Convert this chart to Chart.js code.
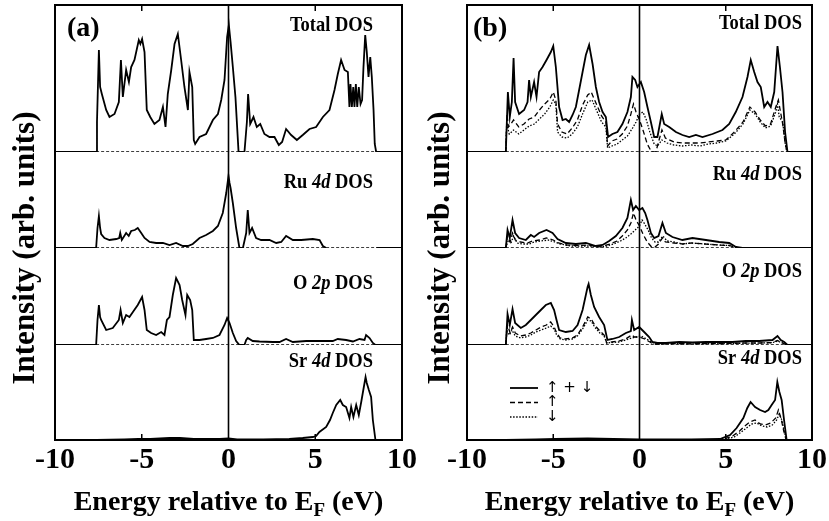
<!DOCTYPE html>
<html>
<head>
<meta charset="utf-8">
<title>DOS</title>
<script src="https://cdn.jsdelivr.net/npm/chart.js@4.4.0/dist/chart.umd.min.js"></script>
<style>
    html, body { margin: 0; padding: 0; background: #fff; }
    #wrap { position: relative; width: 829px; height: 521px; overflow: hidden; }
    canvas { position: absolute; top: 0; }
    #chartA { left: 0; }
    #chartB { left: 399px; }
</style>
</head>
<body>
<div id="wrap">
    <canvas id="chartA" width="430" height="521"></canvas>
    <canvas id="chartB" width="430" height="521"></canvas>
</div>
<script>
// energy relative to E_F (eV), intensity in arb. units
const energyRange = [-10, 10];
const energyTicks = [-10, -5, 0, 5, 10];
const panelNames = ['Total', 'Ru 4d', 'O 2p', 'Sr 4d'];

// band edges where the dashed zero line is drawn
const bandA = [[-7.63, 0], [8.51, 0]];
const bandB = [[-7.75, 0], [8.58, 0]];

// (a) non spin-polarised
const totalA = [[-10,0],[-7.63,0],[-7.58,30],[-7.47,102],[-7.4,65],[-7.3,58],[-7.05,42],[-6.86,35],[-6.57,38],[-6.32,50],[-6.2,92],[-6.09,55],[-5.9,82],[-5.74,70],[-5.61,85],[-5.42,92],[-5.17,112],[-5.08,108],[-4.98,113],[-4.84,100],[-4.71,42],[-4.51,35],[-4.27,28],[-3.98,32],[-3.78,45],[-3.63,25],[-3.5,58],[-3.3,82],[-3.11,108],[-2.92,118],[-2.73,92],[-2.54,65],[-2.34,42],[-2.25,80],[-2.09,65],[-2.0,12],[-1.92,8],[-1.67,15],[-1.29,18],[-0.9,32],[-0.61,38],[-0.42,52],[-0.23,72],[-0.08,115],[0.02,127],[0.12,110],[0.25,85],[0.4,55],[0.58,0],[0.92,0],[1.06,30],[1.13,58],[1.25,28],[1.44,35],[1.63,25],[1.83,28],[2.07,18],[2.36,15],[2.65,15],[2.9,7],[3.09,10],[3.32,23],[3.61,17],[3.94,12],[4.28,17],[4.67,23],[5.05,25],[5.44,35],[5.82,42],[6.11,62],[6.3,78],[6.49,92],[6.69,82],[6.88,80],[6.97,45],[7.03,68],[7.11,45],[7.19,65],[7.26,45],[7.34,68],[7.42,45],[7.51,65],[7.61,48],[7.7,52],[7.78,85],[7.88,117],[7.97,100],[8.07,75],[8.17,95],[8.26,75],[8.36,42],[8.43,8],[8.51,0],[10,0]];
const ruA = [[-10,0],[-7.63,0],[-7.55,20],[-7.47,32],[-7.4,20],[-7.34,14],[-7.15,10],[-6.86,8],[-6.47,9],[-6.3,10],[-6.24,15],[-6.15,8],[-5.9,15],[-5.75,12],[-5.61,17],[-5.4,18],[-5.23,20],[-5.03,15],[-4.84,10],[-4.55,6],[-4.17,5],[-3.78,5],[-3.4,3],[-3.02,5],[-2.63,2],[-2.34,2],[-2.06,4],[-1.67,10],[-1.29,13],[-0.9,17],[-0.61,22],[-0.33,35],[-0.13,55],[0.0,72],[0.06,65],[0.12,60],[0.25,45],[0.44,20],[0.63,0],[0.83,0],[1.02,15],[1.11,38],[1.21,15],[1.36,20],[1.59,10],[1.88,8],[2.36,8],[2.75,5],[3.04,6],[3.32,12],[3.71,8],[4.19,8],[4.86,9],[5.25,8],[5.44,2],[5.63,0],[7.0,null],[8.51,0],[10,0]];
const oA = [[-10,0],[-7.63,0],[-7.55,25],[-7.47,40],[-7.4,28],[-7.34,25],[-7.05,15],[-6.67,17],[-6.32,25],[-6.22,35],[-6.09,22],[-5.9,30],[-5.71,28],[-5.51,33],[-5.23,40],[-4.98,48],[-4.84,35],[-4.71,15],[-4.46,12],[-4.17,10],[-3.88,13],[-3.69,10],[-3.55,25],[-3.4,28],[-3.21,50],[-3.02,67],[-2.82,60],[-2.67,45],[-2.48,30],[-2.38,50],[-2.21,45],[-2.09,35],[-2.0,5],[-1.67,5],[-1.29,6],[-0.9,7],[-0.52,10],[-0.23,20],[-0.08,27],[0.06,22],[0.25,12],[0.44,4],[0.63,0],[0.92,0],[1.02,5],[1.11,7],[1.4,4],[1.79,3.5],[2.56,3],[2.94,3],[3.32,6],[3.71,3],[4.48,4],[5.25,4],[6.01,4],[6.3,6],[6.78,5],[7.17,3.5],[7.55,6],[7.84,5],[7.93,10],[8.13,7],[8.32,2],[8.47,0],[10,0]];
const srA = [[-10,0],[-7.6,0],[-6,0.5],[-5.2,1],[-4.5,1],[-3.4,2],[-2.8,2],[-2,1],[-0.5,1],[0,1.5],[0.5,0.5],[2,0.5],[3.5,1],[4.28,2],[4.86,3],[5.05,4],[5.24,8],[5.63,13],[5.85,20],[6.01,27],[6.21,35],[6.44,40],[6.59,35],[6.78,33],[6.97,22],[7.07,33],[7.2,23],[7.36,35],[7.51,25],[7.65,38],[7.74,47],[7.9,63],[7.97,57],[8.09,50],[8.22,43],[8.32,20],[8.47,0],[10,0]];

// (b) spin-polarised: up + down (solid), up (dashed), down (dotted)
const totalB = [[-10,0],[-7.75,0],[-7.63,60],[-7.52,35],[-7.4,50],[-7.3,94],[-7.21,50],[-6.98,38],[-6.69,42],[-6.49,50],[-6.4,72],[-6.3,55],[-6.11,70],[-5.97,55],[-5.82,80],[-5.62,85],[-5.39,92],[-5.14,100],[-5.0,106],[-4.85,85],[-4.66,45],[-4.46,32],[-4.27,33],[-4.08,30],[-3.88,37],[-3.69,45],[-3.5,62],[-3.3,80],[-3.11,97],[-2.92,107],[-2.72,88],[-2.53,65],[-2.34,50],[-2.14,40],[-1.95,35],[-1.82,15],[-1.57,18],[-1.28,20],[-0.99,28],[-0.7,40],[-0.5,55],[-0.41,75],[-0.25,72],[-0.12,65],[0.08,70],[0.27,60],[0.46,45],[0.66,30],[0.85,15],[1.04,15],[1.29,38],[1.43,28],[1.72,25],[2.11,20],[2.49,17],[2.88,15],[3.27,17],[3.65,15],[4.23,18],[4.81,22],[5.2,28],[5.58,40],[5.97,55],[6.26,75],[6.45,92],[6.65,80],[6.84,70],[7.03,65],[7.23,45],[7.42,50],[7.61,45],[7.81,60],[8.0,106],[8.14,85],[8.29,60],[8.44,20],[8.58,0],[10,0]];
const totalUpB = [[-7.75,0],[-7.68,38],[-7.6,25],[-7.45,28],[-7.3,32],[-7.0,25],[-6.7,28],[-6.4,33],[-6.1,35],[-5.8,42],[-5.5,48],[-5.2,53],[-5.0,60],[-4.85,52],[-4.75,28],[-4.5,20],[-4.2,18],[-3.9,24],[-3.6,32],[-3.3,47],[-3.0,57],[-2.8,60],[-2.5,48],[-2.2,36],[-1.95,30],[-1.85,6],[-1.6,11],[-1.3,13],[-1.0,18],[-0.7,26],[-0.5,38],[-0.35,48],[-0.2,40],[0,32],[0.2,22],[0.45,8],[0.7,0],[0.95,0],[1.1,10],[1.3,22],[1.5,14],[2.0,10],[2.5,9],[3.0,9],[3.5,9],[4.0,10],[4.5,11],[5.0,12],[5.5,20],[6.0,30],[6.4,45],[6.7,40],[7.0,32],[7.3,26],[7.6,28],[7.9,45],[8.05,52],[8.3,28],[8.45,8],[8.55,0]];
const totalDnB = [[-7.75,0],[-7.7,28],[-7.55,18],[-7.3,22],[-7.0,18],[-6.7,22],[-6.4,26],[-6.1,28],[-5.8,33],[-5.5,38],[-5.2,45],[-5.0,52],[-4.85,48],[-4.75,20],[-4.5,15],[-4.2,14],[-3.9,18],[-3.6,25],[-3.3,38],[-3.0,50],[-2.75,52],[-2.5,42],[-2.2,30],[-1.95,25],[-1.85,4],[-1.6,6],[-1.3,8],[-1.0,12],[-0.7,16],[-0.4,24],[-0.2,30],[0,38],[0.2,40],[0.4,32],[0.6,20],[0.85,8],[1.05,6],[1.3,12],[1.6,9],[2.0,7],[2.5,6],[3.0,7],[3.5,6],[4.0,8],[4.5,9],[5.0,11],[5.5,18],[6.0,28],[6.4,42],[6.7,38],[7.0,30],[7.3,24],[7.6,26],[7.9,40],[8.0,48],[8.1,35],[8.3,30],[8.45,8],[8.55,0]];
const ruB = [[-10,0],[-7.75,0],[-7.65,18],[-7.52,10],[-7.36,28],[-7.21,15],[-6.98,10],[-6.59,8],[-6.3,13],[-6.11,11],[-5.82,15],[-5.39,18],[-5.04,15],[-4.75,9],[-4.27,5],[-3.69,4],[-3.11,5],[-2.53,2],[-2.14,3],[-1.76,7],[-1.37,12],[-0.99,20],[-0.7,30],[-0.5,48],[-0.37,38],[-0.21,42],[-0.02,38],[0.17,40],[0.33,35],[0.46,28],[0.66,15],[0.85,10],[1.1,12],[1.33,25],[1.53,15],[1.91,11],[2.49,8],[3.07,10],[3.85,8],[4.62,6],[5.2,5],[5.59,1],[5.97,0],[10,0]];
const ruUpB = [[-7.75,0],[-7.65,12],[-7.5,6],[-7.36,15],[-7.2,8],[-6.9,6],[-6.5,5],[-6.2,7],[-5.8,8],[-5.4,10],[-5.0,8],[-4.7,5],[-4.2,3],[-3.6,2.5],[-3.0,3],[-2.5,1.5],[-2.1,2],[-1.7,4],[-1.3,7],[-1.0,12],[-0.7,18],[-0.5,25],[-0.35,35],[-0.2,28],[0,22],[0.2,14],[0.45,6],[0.7,1],[0.9,1],[1.1,4],[1.33,10],[1.5,6],[2.0,5],[2.5,4],[3.0,5],[3.8,4],[4.6,3],[5.2,2.5],[5.6,0.5],[6,0]];
const ruDnB = [[-7.75,0],[-7.6,8],[-7.45,5],[-7.3,12],[-7.1,5],[-6.8,4],[-6.4,4],[-6.1,6],[-5.7,7],[-5.3,8],[-4.9,6],[-4.6,4],[-4.0,2],[-3.4,2],[-2.8,2],[-2.3,1],[-1.9,2],[-1.5,4],[-1.1,7],[-0.8,10],[-0.5,14],[-0.25,18],[0,22],[0.15,28],[0.3,24],[0.5,18],[0.7,10],[0.9,6],[1.1,6],[1.35,12],[1.6,7],[2.0,6],[2.5,4],[3.0,5],[3.8,4],[4.6,3],[5.2,2.5],[5.6,0.5],[6,0]];
const oB = [[-10,0],[-7.75,0],[-7.65,31],[-7.52,20],[-7.36,36],[-7.21,22],[-6.88,17],[-6.59,20],[-6.3,25],[-6.01,30],[-5.72,35],[-5.43,40],[-5.14,42],[-4.95,35],[-4.81,25],[-4.66,15],[-4.27,13],[-3.88,14],[-3.59,20],[-3.3,35],[-3.01,58],[-2.95,61],[-2.82,50],[-2.63,38],[-2.34,28],[-2.05,20],[-1.86,5],[-1.57,6],[-1.18,8],[-0.79,12],[-0.5,14],[-0.44,25],[-0.31,15],[-0.02,18],[0.27,13],[0.56,8],[0.75,3],[1.04,2],[1.53,2],[2.3,3],[3.07,2.5],[3.85,3],[4.62,3],[5.39,3],[6.16,4],[6.94,4],[7.71,5],[8.0,9],[8.19,5],[8.39,3],[8.58,0],[10,0]];
const oUpB = [[-7.75,0],[-7.65,20],[-7.5,12],[-7.36,18],[-7.2,12],[-6.9,9],[-6.6,10],[-6.3,12],[-6.0,15],[-5.7,18],[-5.4,20],[-5.15,23],[-4.95,18],[-4.8,12],[-4.6,7],[-4.3,6],[-3.9,7],[-3.6,10],[-3.3,18],[-3.0,28],[-2.8,26],[-2.6,20],[-2.3,14],[-2.05,10],[-1.9,2],[-1.6,3],[-1.2,4],[-0.8,6],[-0.45,10],[-0.3,8],[0,8],[0.3,6],[0.6,3],[0.8,1],[1.1,1],[2,1.5],[3,1.2],[4,1.5],[5,1.5],[6,2],[7,2],[7.7,2.5],[8.0,4.5],[8.3,2],[8.55,0]];
const oDnB = [[-7.75,0],[-7.7,15],[-7.55,10],[-7.4,15],[-7.2,9],[-6.9,7],[-6.6,8],[-6.3,10],[-6.0,13],[-5.7,15],[-5.4,17],[-5.15,19],[-4.95,16],[-4.8,10],[-4.6,6],[-4.3,5],[-3.9,6],[-3.6,9],[-3.3,16],[-3.0,25],[-2.8,24],[-2.6,18],[-2.3,12],[-2.05,9],[-1.9,2],[-1.6,2.5],[-1.2,3],[-0.8,5],[-0.45,7],[-0.2,8],[0.1,9],[0.4,6],[0.7,3],[0.9,1],[1.2,1],[2,1.3],[3,1.2],[4,1.3],[5,1.4],[6,1.8],[7,2],[7.7,2.3],[8.0,4],[8.3,2],[8.55,0]];
const srB = [[-10,0],[-7.75,0],[-6,0.5],[-4.9,1],[-3.0,1.5],[-1.5,1],[0,0.5],[3,0.5],[4.67,1],[5.25,5],[5.63,12],[6.02,22],[6.25,32],[6.44,38],[6.7,33],[6.99,30],[7.28,28],[7.47,30],[7.66,35],[7.86,40],[7.99,58],[8.11,48],[8.24,40],[8.38,20],[8.53,0],[10,0]];
const srUpB = [[4.5,0],[4.9,1],[5.4,4],[5.8,9],[6.1,14],[6.4,18],[6.7,20],[7.0,16],[7.3,15],[7.6,17],[7.9,22],[8.05,30],[8.2,22],[8.35,10],[8.5,0]];
const srDnB = [[4.6,0],[5.0,1],[5.5,3],[5.9,8],[6.2,12],[6.5,16],[6.8,17],[7.1,14],[7.4,13],[7.7,15],[7.95,20],[8.1,26],[8.25,20],[8.4,8],[8.52,0]];

const SERIF = '"Liberation Serif", "Times New Roman", serif';

function pts(arr) {
    return arr.map(p => ({ x: p[0], y: p[1] }));
}

function line(data, axis, style) {
    const ds = {
        data: pts(data),
        yAxisID: axis,
        borderColor: '#000',
        borderWidth: 1.8,
        pointRadius: 0,
        tension: 0,
        fill: false,
        spanGaps: false
    };
    if (style === 'dash') { ds.borderDash = [5, 3]; ds.borderWidth = 1.3; }
    if (style === 'dot') { ds.borderDash = [1.5, 1.6]; ds.borderWidth = 1.3; }
    if (style === 'base') { ds.borderDash = [3, 2]; ds.borderWidth = 1.3; }
    return ds;
}

function yAxis(max, weight) {
    return {
        type: 'linear',
        axis: 'y',
        position: 'left',
        stack: 'dos',
        stackWeight: weight,
        min: 0,
        max: max,
        ticks: { display: false },
        grid: { display: false, drawTicks: false },
        border: { display: false }
    };
}

// right-aligned label, slightly condensed like the printed figure
function drawParts(ctx, parts, size, xRight, y, squeeze) {
    let w = 0;
    parts.forEach(p => {
        ctx.font = (p.i ? 'italic bold ' : 'bold ') + size + 'px ' + SERIF;
        w += ctx.measureText(p.t).width;
    });
    ctx.save();
    ctx.translate(xRight - w * squeeze, y);
    ctx.scale(squeeze, 1);
    let x = 0;
    parts.forEach(p => {
        ctx.font = (p.i ? 'italic bold ' : 'bold ') + size + 'px ' + SERIF;
        ctx.fillText(p.t, x, 0);
        x += ctx.measureText(p.t).width;
    });
    ctx.restore();
}

function labelParts(name) {
    const bits = name.split(' ');
    if (bits.length === 1) return [{ t: name + ' DOS', i: false }];
    return [{ t: bits[0] + ' ', i: false }, { t: bits[1], i: true }, { t: ' DOS', i: false }];
}

const decorations = {
    id: 'decorations',
    afterDraw(chart, args, opts) {
        const ctx = chart.ctx;
        const a = chart.chartArea;
        const xs = chart.scales.x;
        ctx.save();
        ctx.strokeStyle = '#000';
        ctx.fillStyle = '#000';

        // frame
        ctx.lineWidth = 2;
        ctx.strokeRect(a.left, a.top, a.right - a.left, a.bottom - a.top);

        // Fermi level
        const x0 = xs.getPixelForValue(0);
        ctx.lineWidth = 1.6;
        ctx.beginPath();
        ctx.moveTo(x0, a.top);
        ctx.lineTo(x0, a.bottom);
        ctx.stroke();

        // inward ticks
        ctx.lineWidth = 1.5;
        [-5, 5].forEach(v => {
            const px = xs.getPixelForValue(v);
            ctx.beginPath();
            ctx.moveTo(px, a.top); ctx.lineTo(px, a.top + 6);
            ctx.moveTo(px, a.bottom); ctx.lineTo(px, a.bottom - 6);
            ctx.stroke();
        });

        // panel letter
        ctx.textBaseline = 'middle';
        ctx.textAlign = 'left';
        ctx.font = 'bold 28px ' + SERIF;
        ctx.fillText(opts.letter, a.left + opts.letterDx, opts.letterY);

        // sub-panel labels
        const ids = ['yTot', 'yRu', 'yO', 'ySr'];
        ids.forEach((id, k) => {
            const s = chart.scales[id];
            drawParts(ctx, labelParts(panelNames[k]), 21, a.right - opts.labelInset, s.top + opts.labelDy[k], 0.88);
        });

        // y title
        ctx.save();
        ctx.translate(opts.yTitleX, opts.yTitleY);
        ctx.rotate(-Math.PI / 2);
        ctx.textAlign = 'center';
        ctx.textBaseline = 'middle';
        ctx.font = 'bold 31px ' + SERIF;
        ctx.fillText('Intensity (arb. units)', 0, 0);
        ctx.restore();

        // x title with subscript
        ctx.textBaseline = 'alphabetic';
        const main = 'bold 28px ' + SERIF;
        const sub = 'bold 19px ' + SERIF;
        const t1 = 'Energy relative to E', t2 = 'F', t3 = ' (eV)';
        ctx.font = main;
        const w1 = ctx.measureText(t1).width, w3 = ctx.measureText(t3).width;
        ctx.font = sub;
        const w2 = ctx.measureText(t2).width;
        let tx = (a.left + a.right) / 2 - (w1 + w2 + w3) / 2;
        const ty = opts.xTitleY;
        ctx.font = main; ctx.fillText(t1, tx, ty); tx += w1;
        ctx.font = sub; ctx.fillText(t2, tx, ty + 6); tx += w2;
        ctx.font = main; ctx.fillText(t3, tx, ty);

        // spin legend
        if (opts.legend) {
            const L = opts.legend;
            const rows = [[], [5, 3], [1.5, 1.6]];
            const marks = ['\u2191 + \u2193', '\u2191', '\u2193'];
            rows.forEach((dash, k) => {
                const y = L.y + k * L.dy;
                ctx.setLineDash(dash);
                ctx.lineWidth = k === 0 ? 1.8 : 1.3;
                ctx.beginPath();
                ctx.moveTo(L.x, y);
                ctx.lineTo(L.x + L.len, y);
                ctx.stroke();
                ctx.setLineDash([]);
                ctx.font = '15px "DejaVu Sans"';
                ctx.textBaseline = 'middle';
                ctx.fillText(marks[k], L.x + L.len + 8, y);
            });
        }
        ctx.restore();
    }
};

function makePanel(canvasId, datasets, pad, opts) {
    return new Chart(document.getElementById(canvasId), {
        type: 'line',
        data: { datasets: datasets },
        options: {
            responsive: false,
            animation: false,
            layout: { padding: pad },
            plugins: {
                legend: { display: false },
                tooltip: { enabled: false },
                decorations: opts
            },
            scales: {
                x: {
                    type: 'linear',
                    min: energyRange[0],
                    max: energyRange[1],
                    afterBuildTicks: s => { s.ticks = energyTicks.map(v => ({ value: v })); },
                    ticks: {
                        color: '#000',
                        padding: 2,
                        maxRotation: 0,
                        font: { family: SERIF, size: 30, weight: 'bold' }
                    },
                    grid: { display: false, drawTicks: false },
                    border: { display: false },
                    afterFit: s => { s.height = 81; }
                },
                ySr: yAxis(95, 95),
                yO: yAxis(97, 97),
                yRu: yAxis(96, 96),
                yTot: yAxis(147, 147)
            }
        },
        plugins: [decorations]
    });
}

makePanel('chartA', [
    line(bandA, 'yTot', 'base'),
    line(bandA, 'yRu', 'base'),
    line(bandA, 'yO', 'base'),
    line(totalA, 'yTot'),
    line(ruA, 'yRu'),
    line(oA, 'yO'),
    line(srA, 'ySr')
], { left: 55, right: 28, top: 5, bottom: 0 }, {
    letter: '(a)', letterDx: 12, letterY: 29,
    labelInset: 29, labelDy: [21, 31, 36, 17],
    yTitleX: 26, yTitleY: 248, xTitleY: 510
});

makePanel('chartB', [
    line(bandB, 'yTot', 'base'),
    line(bandB, 'yRu', 'base'),
    line(bandB, 'yO', 'base'),
    line(totalB, 'yTot'),
    line(totalUpB, 'yTot', 'dash'),
    line(totalDnB, 'yTot', 'dot'),
    line(ruB, 'yRu'),
    line(ruUpB, 'yRu', 'dash'),
    line(ruDnB, 'yRu', 'dot'),
    line(oB, 'yO'),
    line(oUpB, 'yO', 'dash'),
    line(oDnB, 'yO', 'dot'),
    line(srB, 'ySr'),
    line(srUpB, 'ySr', 'dash'),
    line(srDnB, 'ySr', 'dot')
], { left: 68, right: 17, top: 5, bottom: 0 }, {
    letter: '(b)', letterDx: 6, letterY: 29,
    labelInset: 10, labelDy: [19, 23, 24, 14],
    yTitleX: 42, yTitleY: 248, xTitleY: 510,
    legend: { x: 111, y: 388, dy: 14.5, len: 28 }
});
</script>
</body>
</html>
